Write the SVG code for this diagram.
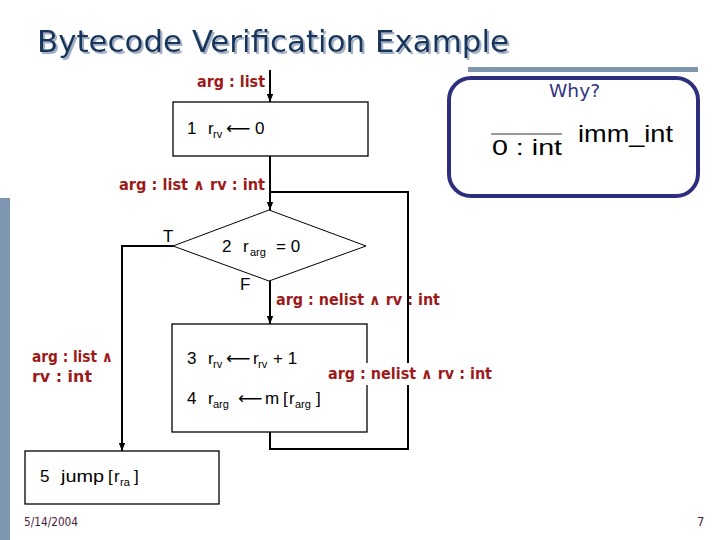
<svg xmlns="http://www.w3.org/2000/svg" width="720" height="540" viewBox="0 0 720 540">
<defs>
<marker id="ah" viewBox="0 0 10 8" refX="10" refY="4" markerWidth="4" markerHeight="3.2" orient="auto" markerUnits="strokeWidth">
<path d="M0,0 L10,4 L0,8 z" fill="#000"/>
</marker>
<filter id="shadow" x="-5%" y="-20%" width="110%" height="150%">
<feDropShadow dx="2" dy="2" stdDeviation="0.4" flood-color="#A3AFC4" flood-opacity="1"/>
</filter>
</defs>
<style>
.box{fill:#fff;stroke:#000;stroke-width:1.3}
.conn{fill:none;stroke:#000;stroke-width:2}
.lbl{font-family:'DejaVu Sans Condensed','DejaVu Sans',sans-serif;font-weight:bold;font-size:15px;fill:#9C1A1A}
.code{font-family:'Liberation Sans',Arial,sans-serif;font-size:17px;fill:#000}
.arr{font-family:'DejaVu Sans',sans-serif;font-size:17px}
.sub{font-size:11px}
.title{font-family:'DejaVu Sans Condensed','DejaVu Sans',sans-serif;font-size:31px}
.foot{font-family:'DejaVu Sans Condensed','DejaVu Sans',sans-serif;font-size:13px;fill:#4B2040}
</style>
<rect width="720" height="540" fill="#fff"/>
<!-- decorations -->
<rect x="0" y="198" width="10" height="342" fill="#7F96B0"/>
<rect x="468" y="67" width="230" height="5" fill="#8096AF"/>
<text class="title" x="37" y="52" fill="#17365D" filter="url(#shadow)" textLength="472" lengthAdjust="spacingAndGlyphs">Bytecode Verification Example</text>

<g id="why">
<rect x="449" y="78" width="249" height="118" rx="22" fill="#fff" stroke="#2E2E80" stroke-width="4"/>
<text x="549" y="97" font-family="'DejaVu Sans Condensed','DejaVu Sans',sans-serif" font-size="18" fill="#333380" textLength="51" lengthAdjust="spacingAndGlyphs">Why?</text>
<line x1="491" y1="134" x2="562" y2="134" stroke="#333" stroke-width="1.2"/>
<text x="492" y="155" font-family="'Liberation Sans',Arial,sans-serif" font-size="22" fill="#000" textLength="70" lengthAdjust="spacingAndGlyphs">0 : int</text>
<text x="578" y="142" font-family="'Liberation Sans',Arial,sans-serif" font-size="24" fill="#000" textLength="95" lengthAdjust="spacingAndGlyphs">imm_int</text>
</g>

<g id="n1">
<rect class="box" x="173" y="102" width="195" height="54"/>
<text class="code"><tspan x="187" y="134">1</tspan><tspan x="208" y="134">r</tspan><tspan class="sub" x="213" y="138">rv</tspan><tspan class="arr" x="226" y="134">⟵</tspan><tspan x="255" y="134">0</tspan></text>
</g>

<g id="n2">
<polygon points="173,246 269,210 366,246 269,281" fill="#fff" stroke="#000" stroke-width="1"/>
<text class="code"><tspan x="222" y="252">2</tspan><tspan x="243" y="252">r</tspan><tspan class="sub" x="250" y="256">arg</tspan><tspan x="276" y="252">= 0</tspan></text>
</g>

<g id="n3">
<rect class="box" x="172" y="324" width="195" height="108"/>
<text class="code"><tspan x="187" y="364">3</tspan><tspan x="208" y="364">r</tspan><tspan class="sub" x="213" y="368">rv</tspan><tspan class="arr" x="226" y="364">⟵</tspan><tspan x="253" y="364">r</tspan><tspan class="sub" x="258" y="368">rv</tspan><tspan x="273" y="364">+ 1</tspan></text>
<text class="code"><tspan x="187" y="404">4</tspan><tspan x="208" y="404">r</tspan><tspan class="sub" x="213" y="408">arg</tspan><tspan class="arr" x="238" y="404">⟵</tspan><tspan x="265" y="404">m</tspan><tspan x="283" y="404">[</tspan><tspan x="289" y="404">r</tspan><tspan class="sub" x="295" y="408">arg</tspan><tspan x="316" y="404">]</tspan></text>
</g>

<g id="n5">
<rect class="box" x="25" y="451" width="194" height="53"/>
<text class="code"><tspan x="40" y="482">5</tspan><tspan x="61" y="482" textLength="43" lengthAdjust="spacingAndGlyphs">jump</tspan><tspan x="108" y="482">[</tspan><tspan x="114" y="482">r</tspan><tspan class="sub" x="120" y="486">ra</tspan><tspan x="134" y="482">]</tspan></text>
</g>

<g id="connectors">
<line class="conn" x1="270" y1="70" x2="270" y2="102" marker-end="url(#ah)"/>
<line class="conn" x1="270" y1="156" x2="270" y2="210" marker-end="url(#ah)"/>
<polyline class="conn" points="270,432 270,449 408,449 408,192 270,192"/>
<polyline class="conn" points="173,246 122,246 122,451" marker-end="url(#ah)"/>
<line class="conn" x1="270" y1="281" x2="270" y2="324" marker-end="url(#ah)"/>
</g>

<g id="labels">
<text class="code" x="163" y="242">T</text>
<text class="code" x="240" y="290">F</text>
<text class="lbl" x="197" y="87" textLength="68" lengthAdjust="spacingAndGlyphs">arg : list</text>
<text class="lbl" x="119" y="190" textLength="146" lengthAdjust="spacingAndGlyphs">arg : list ∧ rv : int</text>
<text class="lbl" x="276" y="305" textLength="164" lengthAdjust="spacingAndGlyphs">arg : nelist ∧ rv : int</text>
<rect x="325" y="363" width="170" height="22" fill="#fff"/>
<text class="lbl" x="328" y="379" textLength="164" lengthAdjust="spacingAndGlyphs">arg : nelist ∧ rv : int</text>
<text class="lbl" x="32" y="362" textLength="81" lengthAdjust="spacingAndGlyphs">arg : list ∧</text>
<text class="lbl" x="32" y="382" textLength="60" lengthAdjust="spacingAndGlyphs">rv  : int</text>
</g>

<text class="foot" x="24" y="526" textLength="54" lengthAdjust="spacingAndGlyphs">5/14/2004</text>
<text class="foot" x="697" y="526">7</text>
</svg>
